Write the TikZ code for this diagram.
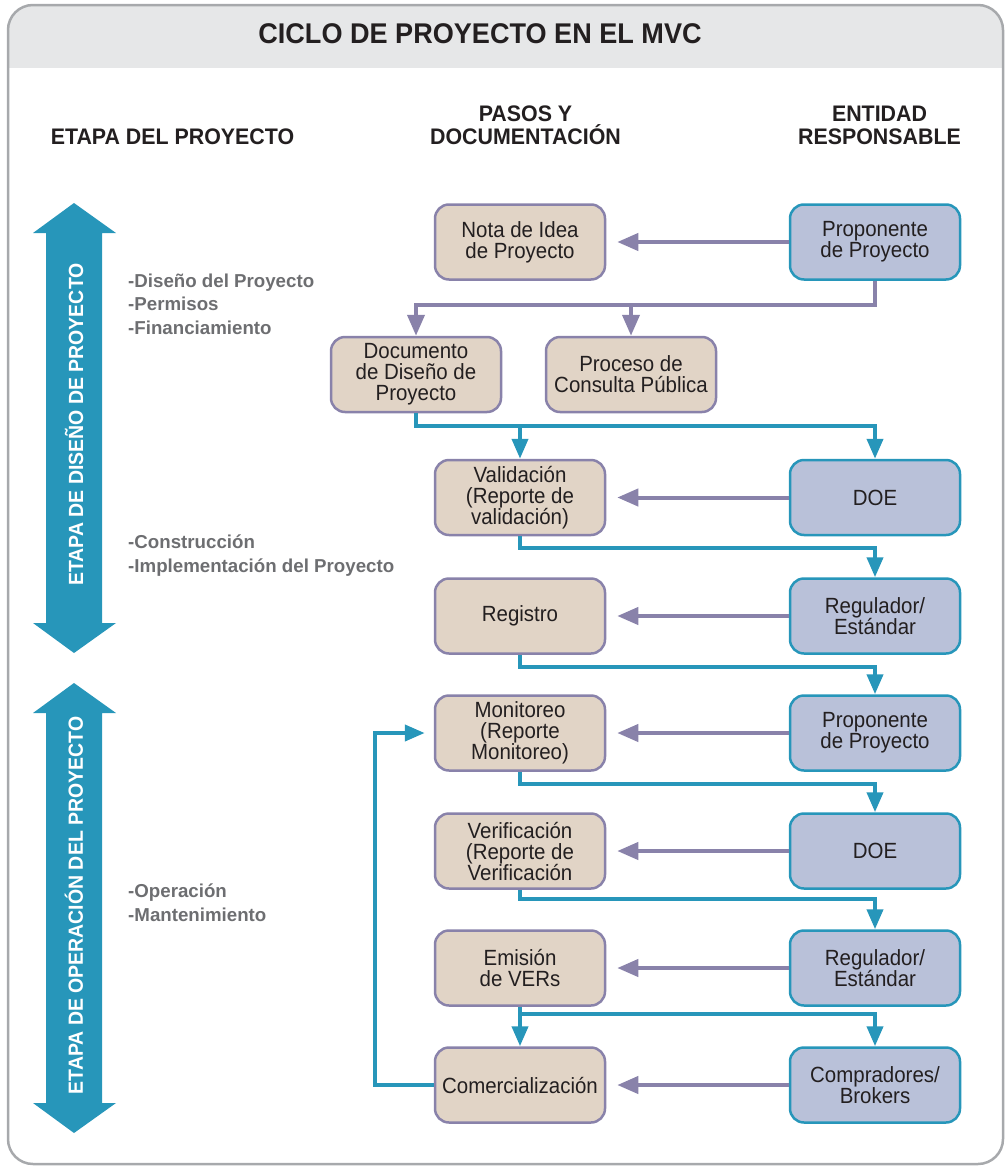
\documentclass[tikz,border=0pt]{standalone}
\usepackage{fontspec}
\setmainfont{Liberation Sans}
\newfontfamily\boxfont[FakeStretch=0.93]{Liberation Sans}
\newfontfamily\hdrfont[FakeStretch=0.95]{Liberation Sans}
\usetikzlibrary{arrows.meta}
\definecolor{teal2}{HTML}{2796BA}
\definecolor{purp}{HTML}{8982AA}
\definecolor{beige}{HTML}{E1D4C6}
\definecolor{lav}{HTML}{B9C1D9}
\definecolor{framegray}{HTML}{A7A9AC}
\definecolor{bandgray}{HTML}{E6E7E8}
\definecolor{txt}{HTML}{231F20}
\definecolor{listgray}{HTML}{6D6E71}
\begin{document}
\begin{tikzpicture}[x=1pt,y=-1pt,
  stepL/.style={draw=purp, fill=beige, line width=2.5pt, rounded corners=14pt,
    minimum width=170pt, minimum height=75pt, align=center, text=txt, inner sep=2pt,
    font=\boxfont\fontsize{22}{21}\selectfont},
  stepR/.style={stepL, draw=teal2, fill=lav},
  pline/.style={draw=purp, line width=4pt, -{Triangle[length=21pt,width=17pt]}},
  tline/.style={draw=teal2, line width=4pt, -{Triangle[length=20pt,width=16pt]}},
  hdr/.style={font=\hdrfont\bfseries\fontsize{22.5}{23}\selectfont, text=txt, anchor=base, inner sep=0pt},
  lst/.style={font=\bfseries\fontsize{18.7}{23.7}\selectfont, text=listgray, anchor=base west, inner sep=0pt},
  vtxt/.style={font=\hdrfont\bfseries\fontsize{20.5}{21}\selectfont, text=white, rotate=90, inner sep=0pt}
]
\useasboundingbox (0,0) rectangle (1008,1167);
% frame and title band
\begin{scope}
  \clip[rounded corners=25pt] (8,5) rectangle (1003,1164);
  \fill[bandgray] (0,0) rectangle (1008,68);
\end{scope}
\draw[framegray, line width=2.5pt, rounded corners=25pt] (8,5) rectangle (1003,1164);
\node[font=\hdrfont\bfseries\fontsize{28.5}{30}\selectfont, text=txt, anchor=base, inner sep=0pt] (title) at (480,43) {CICLO DE PROYECTO EN EL MVC};

% column headers
\node[hdr] (h1) at (172.5,144) {ETAPA DEL PROYECTO};
\node[hdr] (h2a) at (525.5,121) {PASOS Y};
\node[hdr] (h2b) at (525.5,144) {DOCUMENTACIÓN};
\node[hdr] (h3a) at (879.5,121) {ENTIDAD};
\node[hdr] (h3b) at (879.5,144) {RESPONSABLE};

% big stage arrows
\fill[teal2] (74,203) -- (116,233) -- (102,233) -- (102,623) -- (116,623) -- (74,653)
  -- (33,623) -- (46,623) -- (46,233) -- (33,233) -- cycle;
\fill[teal2] (74,683) -- (116,713) -- (102,713) -- (102,1103) -- (116,1103) -- (74,1133)
  -- (33,1103) -- (46,1103) -- (46,713) -- (33,713) -- cycle;
\node[vtxt] (s1) at (74,424.5) {ETAPA DE DISEÑO DE PROYECTO};
\node[vtxt] (s2) at (74,905.5) {ETAPA DE OPERACIÓN DEL PROYECTO};

% lists
\node[lst] (l1) at (128,287) {-Diseño del Proyecto};
\node[lst] (l2) at (128,310.5) {-Permisos};
\node[lst] (l3) at (128,334) {-Financiamiento};
\node[lst] (l4) at (128,548) {-Construcción};
\node[lst] (l5) at (128,572) {-Implementación del Proyecto};
\node[lst] (l6) at (128,897) {-Operación};
\node[lst] (l7) at (128,921) {-Mantenimiento};

% boxes
\node[stepL] (n1) at (520,242) {Nota de Idea\\de Proyecto};
\node[stepR] (p1) at (875,242) {Proponente\\de Proyecto};
\node[stepL] (doc) at (416,374.5) {Documento\\de Diseño de\\Proyecto};
\node[stepL] (proc) at (631,374.5) {Proceso de\\Consulta Pública};
\node[stepL] (val) at (520,497.5) {Validación\\(Reporte de\\validación)};
\node[stepR] (doe1) at (875,497.5) {DOE};
\node[stepL] (reg) at (520,616) {Registro};
\node[stepR] (regu1) at (875,616) {Regulador/\\Estándar};
\node[stepL] (mon) at (520,733) {Monitoreo\\(Reporte\\Monitoreo)};
\node[stepR] (p2) at (875,733) {Proponente\\de Proyecto};
\node[stepL] (ver) at (520,851) {Verificación\\(Reporte de\\Verificación};
\node[stepR] (doe2) at (875,851) {DOE};
\node[stepL] (emi) at (520,968) {Emisión\\de VERs};
\node[stepR] (regu2) at (875,968) {Regulador/\\Estándar};
\node[stepL] (com) at (520,1085) {Comercialización};
\node[stepR] (comp) at (875,1085) {Compradores/\\Brokers};

% horizontal purple arrows
\foreach \a/\b in {p1/n1, doe1/val, regu1/reg, p2/mon, doe2/ver, regu2/emi, comp/com}
  \draw[pline, shorten >=11pt] (\a) -- (\b);

% purple branch
\draw[pline] (p1.south) -- ++(0,24.5) coordinate (k1) -| (doc.north);
\draw[pline] (k1 -| proc.north) -- (proc.north);

% teal flow
\draw[tline] (doc.south) -- ++(0,13) coordinate (k2) -| (doe1.north);
\draw[tline] (k2 -| val.north) -- (val.north);
\draw[tline] (val.south) -- ++(0,11.5) -| (regu1.north);
\draw[tline] (reg.south) -- ++(0,12) -| (p2.north);
\draw[tline] (mon.south) -- ++(0,12) -| (doe2.north);
\draw[tline] (ver.south) -- ++(0,9) -| (regu2.north);
\draw[tline] (emi.south) -- ++(0,7.5) coordinate (k3) -| (comp.north);
\draw[tline] (k3) -- (com.north);
\draw[tline, shorten >=9pt] (com.west) -- ++(-59,0) |- (mon.west);
\end{tikzpicture}
\end{document}
